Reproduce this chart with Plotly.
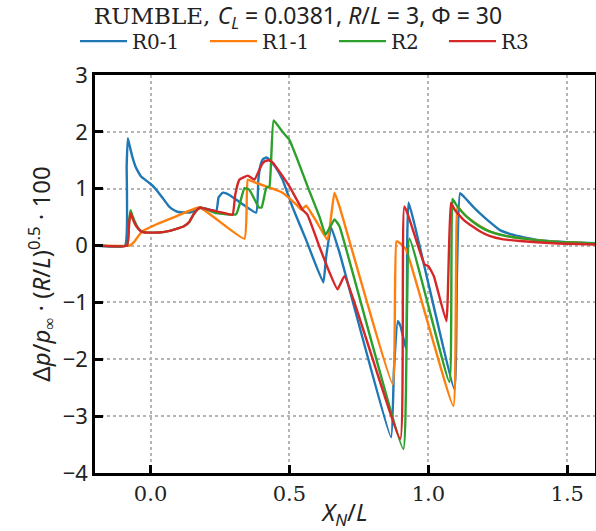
import plotly.graph_objects as go

# Pressure signatures along the track for four configurations
r01_x = [-0.2, -0.092, -0.086, -0.082, -0.075, -0.065, -0.055, -0.045, -0.035, -0.02, -0.004,
         0.014, 0.04, 0.068, 0.085, 0.1, 0.14, 0.16, 0.176, 0.2, 0.237, 0.245, 0.26, 0.284,
         0.38, 0.388, 0.395, 0.405, 0.417, 0.43, 0.45, 0.475, 0.51, 0.56, 0.622, 0.632,
         0.65, 0.68, 0.866, 0.876, 0.89, 0.90, 0.92, 0.924, 0.929, 1.094, 1.103, 1.114,
         1.13, 1.16, 1.185, 1.21, 1.235, 1.255, 1.29, 1.33, 1.38, 1.43, 1.5, 1.6]
r01_y = [0, 0, 1.4, 1.89, 1.75, 1.55, 1.4, 1.3, 1.22, 1.16, 1.1,
         1.02, 0.86, 0.68, 0.62, 0.59, 0.58, 0.62, 0.66, 0.65, 0.61, 0.85, 0.93, 0.89,
         0.58, 1.15, 1.4, 1.52, 1.55, 1.5, 1.38, 1.16, 0.69, 0.1, -0.65, -0.2,
         0.32, -0.12, -3.37, -2.2, -1.33, -1.42, -1.82, 0.1, 0.76, -2.53, -0.5, 0.92,
         0.85, 0.69, 0.57, 0.46, 0.36, 0.28, 0.21, 0.16, 0.11, 0.08, 0.06, 0.04]

r11_x = [-0.2, -0.075, -0.06, -0.045, -0.03, 0.02, 0.09, 0.176, 0.338, 0.35, 0.37, 0.428,
         0.475, 0.525, 0.543, 0.56, 0.60, 0.637, 0.662, 0.68, 0.872, 0.885, 0.896, 0.92,
         1.09, 1.105, 1.12, 1.14, 1.16, 1.19, 1.22, 1.27, 1.33, 1.45, 1.6]
r11_y = [0, 0, 0.06, 0.16, 0.25, 0.37, 0.51, 0.67, 0.12, 1.16, 1.12, 1.02,
         0.93, 0.72, 0.63, 0.70, 0.40, 0.1, 0.93, 0.69, -2.44, 0.07, 0.05, -0.07,
         -2.82, 0.69, 0.6, 0.5, 0.43, 0.33, 0.25, 0.18, 0.13, 0.07, 0.04]

r2_x = [-0.2, -0.085, -0.077, -0.072, -0.065, -0.055, -0.045, -0.035, -0.02, 0.03, 0.06,
        0.09, 0.12, 0.14, 0.155, 0.17, 0.18, 0.2, 0.237, 0.308, 0.338, 0.356, 0.39, 0.40,
        0.417, 0.428, 0.443, 0.475, 0.50, 0.525, 0.57, 0.608, 0.63, 0.662, 0.68, 0.91,
        0.932, 1.076, 1.087, 1.10, 1.12, 1.14, 1.16, 1.19, 1.22, 1.27, 1.33, 1.45, 1.6]
r2_y = [0, 0, 0.45, 0.62, 0.52, 0.4, 0.31, 0.26, 0.23, 0.23, 0.25,
        0.29, 0.34, 0.42, 0.55, 0.64, 0.67, 0.64, 0.57, 0.55, 1.01, 0.98, 0.67, 0.67,
        1.02, 1.04, 2.2, 2.0, 1.86, 1.56, 0.98, 0.51, 0.19, 0.46, 0.34, -3.58,
        0.12, -2.4, 0.82, 0.72, 0.6, 0.5, 0.42, 0.32, 0.25, 0.18, 0.13, 0.07, 0.04]

r3_x = [-0.2, -0.085, -0.077, -0.072, -0.065, -0.055, -0.045, -0.035, -0.02, 0.03, 0.06,
        0.09, 0.12, 0.14, 0.155, 0.17, 0.18, 0.21, 0.26, 0.295, 0.305, 0.32, 0.35, 0.374,
        0.40, 0.41, 0.425, 0.44, 0.464, 0.50, 0.547, 0.565, 0.608, 0.644, 0.673, 0.698,
        0.899, 0.914, 0.986, 1.0, 1.02, 1.065, 1.081, 1.095, 1.11, 1.13, 1.158, 1.19,
        1.22, 1.27, 1.33, 1.45, 1.6]
r3_y = [0, 0, 0.4, 0.57, 0.48, 0.37, 0.3, 0.25, 0.23, 0.23, 0.25,
        0.29, 0.34, 0.42, 0.55, 0.64, 0.67, 0.63, 0.58, 0.54, 0.9, 1.16, 1.23, 1.16,
        1.42, 1.48, 1.5, 1.46, 1.3, 1.04, 0.63, 0.54, -0.02, -0.47, -0.77, -0.54,
        -3.4, 0.69, -0.33, -0.36, -0.54, -1.33, 0.75, 0.63, 0.54, 0.44, 0.34, 0.24,
        0.17, 0.11, 0.08, 0.04, 0.02]

series_names = ["R0-1", "R1-1", "R2", "R3"]
series_colors = ["#1f77b4", "#ff7f0e", "#2ca02c", "#d62728"]

x_ticks = [0.0, 0.5, 1.0, 1.5]
x_tick_labels = ["0.0", "0.5", "1.0", "1.5"]
y_ticks = [-4, -3, -2, -1, 0, 1, 2, 3]
y_tick_labels = ["\u22124", "\u22123", "\u22122", "\u22121", "0", "1", "2", "3"]

SERIF = "DejaVu Serif"
SANS = "Noto Sans"

# plot area in pixels
M_L, M_R, M_T, M_B = 95, 1, 75, 58
PLOT_W = 596 - M_L - M_R

# left edge (px) of each legend entry in the single legend row
legend_left_px = [75, 205, 334, 444]
legend_ids = ["legend", "legend2", "legend3", "legend4"]

fig = go.Figure()
for name, color, xs, ys, lid in zip(series_names, series_colors,
                                    [r01_x, r11_x, r2_x, r3_x],
                                    [r01_y, r11_y, r2_y, r3_y], legend_ids):
    fig.add_trace(go.Scatter(x=xs, y=ys, mode="lines", name=name, legend=lid,
                             line=dict(color=color, width=2.4, shape="spline",
                                       smoothing=0.35)))

title_text = ("RUMBLE, <span style='font-family:" + SANS + "'><i>C</i><sub><i>L</i></sub> = 0.0381, "
              "<i>R</i>/<i>L</i> = 3, \u03a6 = 30</span>")

legend_style = dict(orientation="h", xanchor="left", y=1.085, yanchor="middle",
                    font=dict(family=SERIF, size=20, color="#222"),
                    bgcolor="rgba(0,0,0,0)", itemwidth=47, borderwidth=0)

fig.update_layout(
    width=596, height=531,
    margin=dict(l=M_L, r=M_R, t=M_T, b=M_B, autoexpand=False),
    paper_bgcolor="white", plot_bgcolor="white",
    title=dict(text=title_text, x=0.5, xref="container", xanchor="center",
               y=1 - 16 / 531, yref="container", yanchor="middle",
               font=dict(family=SERIF, size=23, color="#222")),
    showlegend=True,
)
for lid, px in zip(legend_ids, legend_left_px):
    fig.update_layout({lid: dict(x=(px - M_L) / PLOT_W, **legend_style)})

axis_common = dict(showline=True, linecolor="black", linewidth=2.5, mirror=True,
                   ticks="inside", ticklen=8, tickwidth=2.5, tickcolor="black",
                   showgrid=True, gridcolor="#b5b5b5", gridwidth=1.5, griddash="dot",
                   zeroline=False)

fig.update_xaxes(range=[-0.2, 1.6], tickvals=x_ticks, ticktext=x_tick_labels,
                 tickfont=dict(family=SERIF, size=21, color="#222"),
                 title=dict(text="<i>X</i><sub><i>N</i></sub>/<i>L</i>",
                            font=dict(family=SANS, size=24, color="#222"), standoff=4),
                 **axis_common)
fig.update_yaxes(range=[-4, 3], tickvals=y_ticks, ticktext=y_tick_labels,
                 tickfont=dict(family=SANS, size=22, color="#222"),
                 title=dict(text="\u0394<i>p</i>/<i>p</i><sub>\u221e</sub> \u00b7 (<i>R</i>/<i>L</i>)<sup>0.5</sup> \u00b7 100",
                            font=dict(family=SANS, size=24, color="#222"), standoff=6),
                 **axis_common)

fig.write_html("out.html")
